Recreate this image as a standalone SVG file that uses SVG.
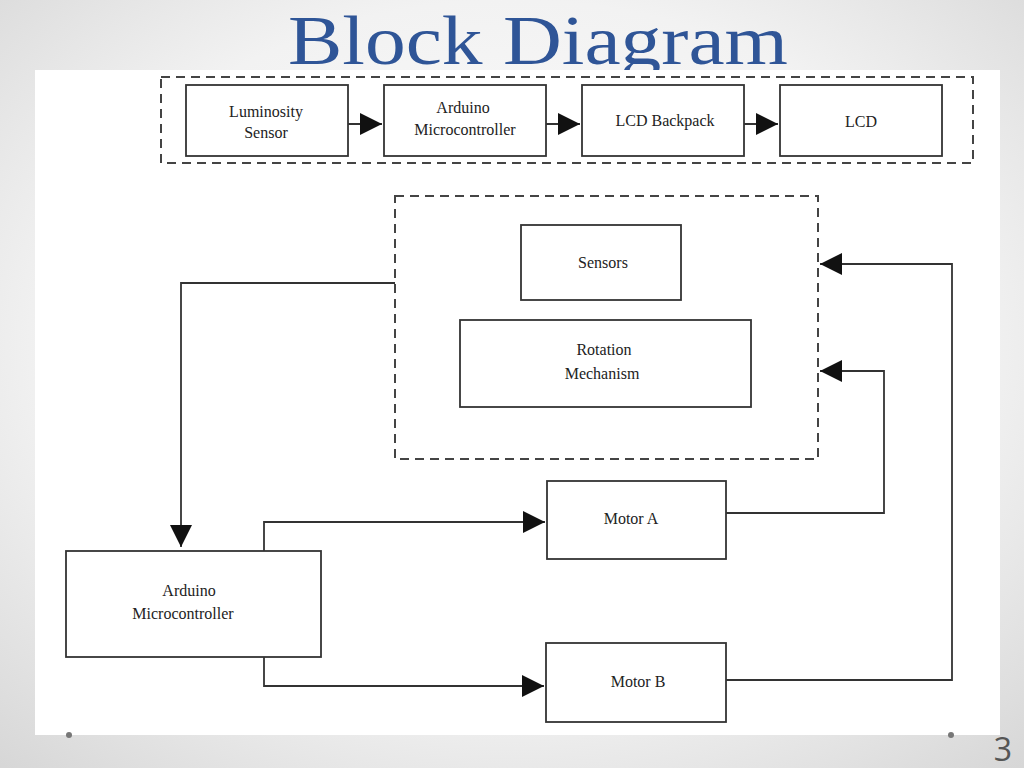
<svg xmlns="http://www.w3.org/2000/svg" width="1024" height="768" viewBox="0 0 1024 768">
<defs>
<radialGradient id="bg" cx="50%" cy="45%" r="75%"><stop offset="0" stop-color="#ffffff"/><stop offset="0.6" stop-color="#f2f2f2"/><stop offset="1" stop-color="#d6d6d6"/></radialGradient>
<marker id="ah" viewBox="0 0 10 10" refX="10" refY="5" markerWidth="24" markerHeight="22" markerUnits="userSpaceOnUse" orient="auto"><path d="M0,0 L10,5 L0,10 z" fill="#111"/></marker>
</defs>
<style>
.b{fill:#fff;stroke:#333;stroke-width:1.8}
.d{fill:none;stroke:#444;stroke-width:2;stroke-dasharray:9 6}
.t{font-family:"Liberation Serif",serif;font-size:16px;fill:#222;text-anchor:middle}
.c{fill:none;stroke:#333;stroke-width:1.8}
</style>
<rect width="1024" height="768" fill="url(#bg)"/>
<text x="288" y="64" font-family="Liberation Serif,serif" font-size="70" fill="#2f5597" textLength="500" lengthAdjust="spacingAndGlyphs">Block Diagram</text>
<rect x="35" y="70" width="965" height="665" fill="#fff"/>
<circle cx="69" cy="735" r="3" fill="#777"/><circle cx="951" cy="735" r="3" fill="#777"/>
<text x="1003" y="761" font-family="Open Sans,sans-serif" font-size="32" fill="#555" text-anchor="middle">3</text>
<rect class="d" x="161" y="77" width="812" height="86"/>
<rect class="d" x="395" y="196" width="423" height="263"/>
<g id="n1"><rect class="b" x="186" y="85" width="162" height="71"/><text class="t" x="266" y="117">Luminosity</text><text class="t" x="266" y="138">Sensor</text></g>
<g id="n2"><rect class="b" x="384" y="85" width="162" height="71"/><text class="t" x="463" y="113">Arduino</text><text class="t" x="465" y="135">Microcontroller</text></g>
<g id="n3"><rect class="b" x="582" y="85" width="162" height="71"/><text class="t" x="665" y="126">LCD Backpack</text></g>
<g id="n4"><rect class="b" x="780" y="85" width="162" height="71"/><text class="t" x="861" y="127">LCD</text></g>
<g id="n5"><rect class="b" x="521" y="225" width="160" height="75"/><text class="t" x="603" y="268">Sensors</text></g>
<g id="n6"><rect class="b" x="460" y="320" width="291" height="87"/><text class="t" x="604" y="355">Rotation</text><text class="t" x="602" y="379">Mechanism</text></g>
<g id="n7"><rect class="b" x="547" y="481" width="179" height="78"/><text class="t" x="631" y="524">Motor A</text></g>
<g id="n8"><rect class="b" x="546" y="643" width="180" height="79"/><text class="t" x="638" y="687">Motor B</text></g>
<g id="n9"><rect class="b" x="66" y="551" width="255" height="106"/><text class="t" x="189" y="596">Arduino</text><text class="t" x="183" y="619">Microcontroller</text></g>
<g id="connectors">
<line class="c" x1="348" y1="124" x2="382" y2="124" marker-end="url(#ah)"/>
<line class="c" x1="546" y1="124" x2="580" y2="124" marker-end="url(#ah)"/>
<line class="c" x1="744" y1="124" x2="778" y2="124" marker-end="url(#ah)"/>
<polyline class="c" points="395,283 181,283 181,547" marker-end="url(#ah)"/>
<polyline class="c" points="264,551 264,522 545,522" marker-end="url(#ah)"/>
<polyline class="c" points="264,657 264,686 544,686" marker-end="url(#ah)"/>
<polyline class="c" points="726,513 884,513 884,371 820,371" marker-end="url(#ah)"/>
<polyline class="c" points="726,680 952,680 952,264 820,264" marker-end="url(#ah)"/>
</g>
</svg>
